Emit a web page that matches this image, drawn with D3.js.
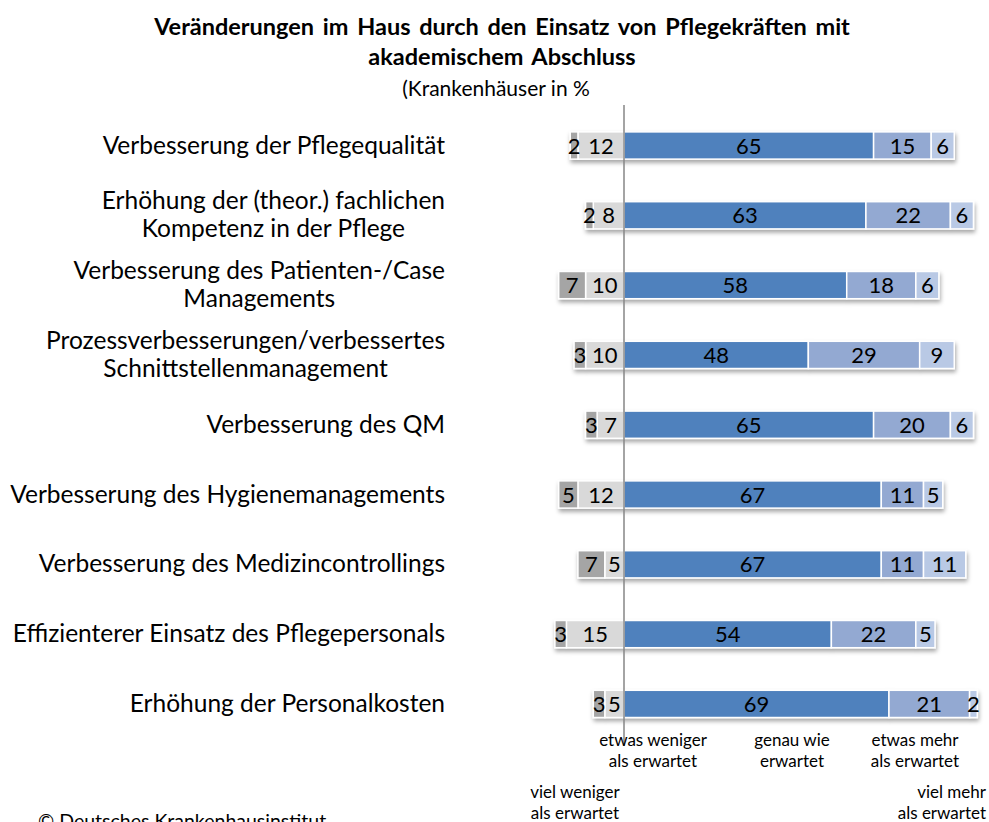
<!DOCTYPE html>
<html>
<head>
<meta charset="utf-8">
<script src="https://cdn.jsdelivr.net/npm/d3@7"></script>
<style>
  body { margin: 0; background: #fff; }
  svg { font-family: Lato, "Open Sans", sans-serif; }
</style>
</head>
<body>
<svg></svg>
<script>
// categories (line breaks marked with |)
const categories = [
  "Verbesserung der Pflegequalität",
  "Erhöhung der (theor.) fachlichen|Kompetenz in der Pflege",
  "Verbesserung des Patienten-/Case|Managements",
  "Prozessverbesserungen/verbessertes|Schnittstellenmanagement",
  "Verbesserung des QM",
  "Verbesserung des Hygienemanagements",
  "Verbesserung des Medizincontrollings",
  "Effizienterer Einsatz des Pflegepersonals",
  "Erhöhung der Personalkosten"
];

// series values in %
const vielWeniger  = [2, 2, 7, 3, 3, 5, 7, 3, 3];
const etwasWeniger = [12, 8, 10, 10, 7, 12, 5, 15, 5];
const genauWie     = [65, 63, 58, 48, 65, 67, 67, 54, 69];
const etwasMehr    = [15, 22, 18, 29, 20, 11, 11, 22, 21];
const vielMehr     = [6, 6, 6, 9, 6, 5, 11, 5, 2];

const seriesNames = ["viel weniger als erwartet", "etwas weniger als erwartet", "genau wie erwartet", "etwas mehr als erwartet", "viel mehr als erwartet"];
const colors = ["#a5a5a5", "#d9d9d9", "#4f81bd", "#93a9d2", "#b9c9e5"];

const titleLines = ["Veränderungen im Haus durch den Einsatz von Pflegekräften mit", "akademischem Abschluss"];
const subtitle = "(Krankenhäuser in %";

(function chart() {
  const width = 989, height = 822;
  const svg = d3.select("svg").attr("width", width).attr("height", height);

  const x = d3.scaleLinear().domain([0, 100]).range([624, 1008]);
  const y = d3.scaleBand().domain(categories).range([110.6, 738.8])
      .paddingInner(0.61).paddingOuter(0.305);

  // drop shadow
  const defs = svg.append("defs");
  const f = defs.append("filter").attr("id", "shadow")
      .attr("x", "-10%").attr("y", "-30%").attr("width", "120%").attr("height", "190%");
  f.append("feDropShadow").attr("dx", 1).attr("dy", 3).attr("stdDeviation", 2)
      .attr("flood-color", "#000").attr("flood-opacity", 0.35);

  // title
  svg.append("g").selectAll("text").data(titleLines).join("text")
      .attr("x", 502).attr("y", (d, i) => 35 + i * 30)
      .attr("text-anchor", "middle").style("font-weight", "bold").style("font-size", "23.5px")
      .style("word-spacing", "3px")
      .text(d => d);
  svg.append("text").attr("x", 496).attr("y", 96).attr("text-anchor", "middle")
      .style("font-size", "21px").text(subtitle);

  // build segments: negatives stacked left from baseline, positives right
  const rows = categories.map((c, i) => {
    const vals = [vielWeniger[i], etwasWeniger[i], genauWie[i], etwasMehr[i], vielMehr[i]];
    const segs = [];
    segs.push({ k: 1, v: vals[1], x0: -vals[1], x1: 0 });
    segs.push({ k: 0, v: vals[0], x0: -vals[1] - vals[0], x1: -vals[1] });
    let acc = 0;
    [2, 3, 4].forEach(k => { segs.push({ k, v: vals[k], x0: acc, x1: acc + vals[k] }); acc += vals[k]; });
    return { c, segs };
  });

  const rowG = svg.append("g").selectAll("g").data(rows).join("g")
      .attr("transform", d => `translate(0,${y(d.c)})`);

  rowG.append("g").attr("filter", "url(#shadow)")
    .selectAll("rect").data(d => d.segs).join("rect")
      .attr("x", s => x(s.x0)).attr("width", s => x(s.x1) - x(s.x0))
      .attr("y", 0).attr("height", y.bandwidth())
      .attr("fill", s => colors[s.k])
      .attr("stroke", "#fff").attr("stroke-width", 1.5);

  rowG.selectAll("text.val").data(d => d.segs).join("text")
      .attr("class", "val")
      .attr("x", s => (x(s.x0) + x(s.x1)) / 2)
      .attr("y", y.bandwidth() / 2 + 8)
      .attr("text-anchor", "middle").style("font-size", "22px").attr("fill", "#000")
      .text(s => s.v);

  // category labels
  const labG = svg.append("g").selectAll("text").data(categories).join("text")
      .style("font-size", "24.5px").attr("text-anchor", "middle");
  labG.each(function(c) {
    const lines = c.split("|");
    const t = d3.select(this);
    const cy = y(c) + y.bandwidth() / 2;
    lines.forEach((l, i) => {
      t.append("tspan").attr("y", cy + 8 + (i - (lines.length - 1) / 2) * 28).text(l);
    });
    const w = d3.max(t.selectAll("tspan").nodes(), n => n.getComputedTextLength());
    t.selectAll("tspan").attr("x", 445 - w / 2);
  });

  // baseline
  svg.append("line").attr("x1", x(0)).attr("x2", x(0)).attr("y1", 105).attr("y2", 746)
      .attr("stroke", "#868686").attr("stroke-width", 1.5);

  // legend labels under the bars
  const legend = [
    { k: 1, cx: 653, y: 746, anchor: "middle" },
    { k: 2, cx: 792, y: 746, anchor: "middle" },
    { k: 3, cx: 915, y: 746, anchor: "middle" },
    { k: 0, cx: 575, y: 798, anchor: "middle" },
    { k: 4, cx: 986, y: 798, anchor: "end" }
  ];
  const splitName = n => { const p = n.split(" als "); return [p[0], "als " + p[1]]; };
  const legG = svg.append("g").selectAll("text").data(legend).join("text")
      .attr("text-anchor", d => d.anchor).style("font-size", "17px");
  legG.each(function(d) {
    const t = d3.select(this);
    let lines = splitName(seriesNames[d.k]);
    if (d.k === 2) lines = ["genau wie", "erwartet"];
    lines.forEach((l, i) => t.append("tspan").attr("x", d.cx).attr("y", d.y + i * 21).text(l));
  });

  svg.append("text").attr("x", 38).attr("y", 828).style("font-size", "19.5px")
      .text("© Deutsches Krankenhausinstitut");
})();
</script>
</body>
</html>
